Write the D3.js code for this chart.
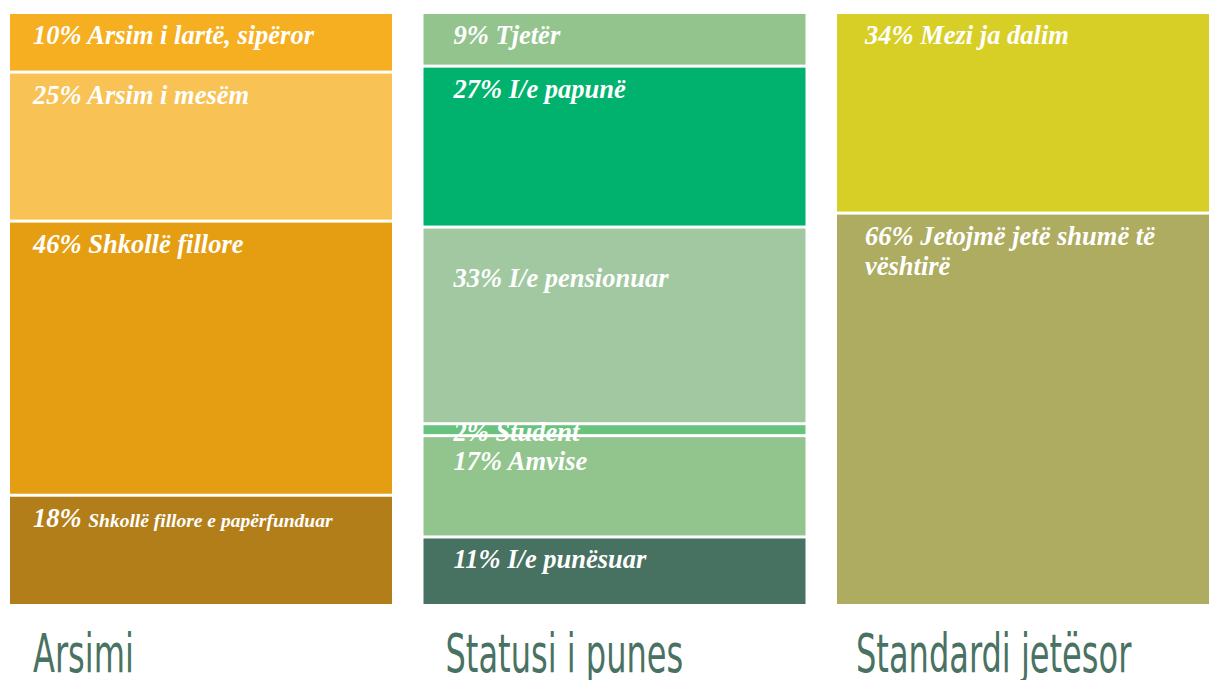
<!DOCTYPE html>
<html lang="sq">
<head>
<meta charset="UTF-8">
<title>Arsimi, statusi i punes, standardi jetësor</title>
<script src="https://d3js.org/d3.v7.min.js"></script>
<style>
    html, body { margin: 0; padding: 0; background: #fff; }
    svg { display: block; }
    .seg-label { font-family: "Liberation Serif", "DejaVu Serif", serif; font-style: italic; font-weight: bold; fill: #fff; }
    .col-title { font-family: "DejaVu Sans Condensed", "Liberation Sans Narrow", sans-serif; fill: #4a7262; }
</style>
</head>
<body>
<svg width="1209" height="680"></svg>
<script>
    // columns
    const groups = ["Arsimi", "Statusi i punes", "Standardi jetësor"];

    // Arsimi
    const arsimiCats = ["Arsim i lartë, sipëror", "Arsim i mesëm", "Shkollë fillore", "Shkollë fillore e papërfunduar"];
    const arsimiVals = [10, 25, 46, 18];
    const arsimiColors = ["#f6af20", "#f8c254", "#e59e12", "#b27e1a"];

    // Statusi i punes
    const punaCats = ["Tjetër", "I/e papunë", "I/e pensionuar", "Student", "Amvise", "I/e punësuar"];
    const punaVals = [9, 27, 33, 2, 17, 11];
    const punaColors = ["#93c48d", "#00b26d", "#a2c8a1", "#69c27e", "#92c48d", "#477160"];

    // Standardi jetësor
    const standardCats = ["Mezi ja dalim", "Jetojmë jetë shumë të vështirë"];
    const standardVals = [34, 66];
    const standardColors = ["#d8cf26", "#aeac60"];

    const columns = [
        {name: groups[0], cats: arsimiCats, vals: arsimiVals, colors: arsimiColors},
        {name: groups[1], cats: punaCats, vals: punaVals, colors: punaColors},
        {name: groups[2], cats: standardCats, vals: standardVals, colors: standardColors}
    ];

    let svg = d3.select("svg");

    let x = d3.scaleBand()
        .domain(groups)
        .range([10, 1219])
        .paddingInner(0.0762)
        .paddingOuter(0);

    const yTop = 14, yBottom = 604, gap = 3;

    // label / title indents per column
    const labelPad = [23, 30, 28];
    const titlePad = [23, 22, 19];

    // a few labels sit lower / smaller in the original
    const labelDy = {"I/e pensionuar": 58, "Student": 16, "Amvise": 33};
    const smallText = {"Shkollë fillore e papërfunduar": 19.5};

    columns.forEach((col, ci) => {
        let total = d3.sum(col.vals);
        let y = d3.scaleLinear().domain([0, total]).range([yTop, yBottom]);
        let cum = d3.cumsum(col.vals);
        let rows = col.vals.map((v, i) => ({
            cat: col.cats[i], val: v, color: col.colors[i],
            y0: i === 0 ? 0 : cum[i - 1], y1: cum[i]
        }));

        let g = svg.append("g");
        let x0 = x(col.name);
        let bw = x.bandwidth();

        g.selectAll("rect")
            .data(rows)
            .enter()
            .append("rect")
            .attr("x", x0)
            .attr("y", d => y(d.y0))
            .attr("width", bw)
            .attr("height", (d, i) => y(d.y1) - y(d.y0) - (i < rows.length - 1 ? gap : 0))
            .attr("fill", d => d.color);

        let pad = labelPad[ci];
        let maxW = bw - 2 * pad - 20;

        rows.forEach(d => {
            let t = g.append("text")
                .attr("class", "seg-label")
                .attr("x", x0 + pad)
                .attr("y", y(d.y0) + (labelDy[d.cat] || 30))
                .style("font-size", "26.5px");
            let words = (d.val + "% " + d.cat).split(" ");
            let size = smallText[d.cat];
            if (size) {
                t.append("tspan").text(words[0] + " ");
                t.append("tspan").style("font-size", size + "px").text(words.slice(1).join(" "));
                return;
            }
            // simple word wrap
            let line = [];
            let tspan = t.append("tspan").attr("x", x0 + pad);
            words.forEach(w => {
                line.push(w);
                tspan.text(line.join(" "));
                if (tspan.node().getComputedTextLength() > maxW && line.length > 1) {
                    line.pop();
                    tspan.text(line.join(" "));
                    line = [w];
                    tspan = t.append("tspan").attr("x", x0 + pad).attr("dy", 30).text(w);
                }
            });
        });

        // condensed title, squeezed horizontally
        svg.append("text")
            .attr("class", "col-title")
            .attr("transform", `translate(${x0 + titlePad[ci]},672) scale(0.66,1)`)
            .style("font-size", "54px")
            .text(col.name);
    });
</script>
</body>
</html>
